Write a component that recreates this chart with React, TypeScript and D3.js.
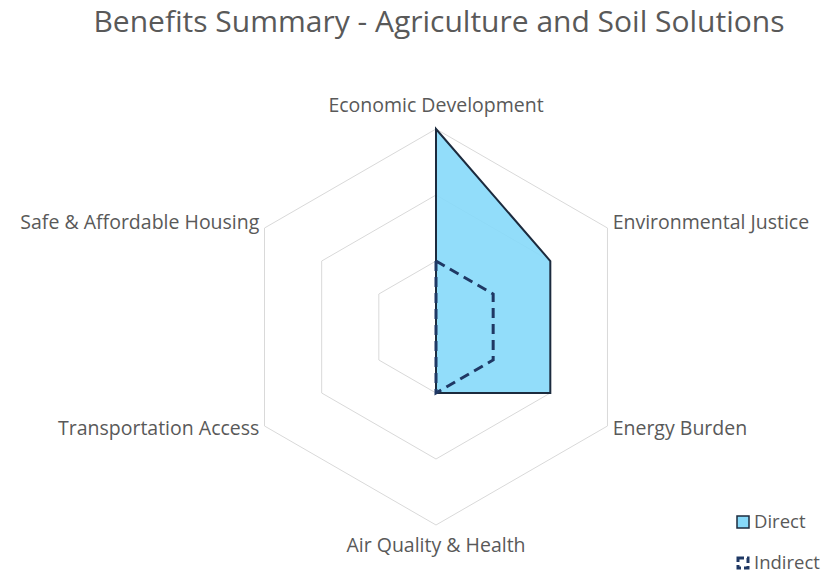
import React, { useEffect, useRef } from "react";
import * as d3 from "d3";

const axes = [
  "Economic Development",
  "Environmental Justice",
  "Energy Burden",
  "Air Quality & Health",
  "Transportation Access",
  "Safe & Affordable Housing",
];
const directValues = [3, 2, 2, 1, 0, 0];
const indirectValues = [1, 1, 1, 1, 0, 0];
const gridLevels = [1, 2, 3];

const FONT = "'Open Sans', 'Liberation Sans', sans-serif";

export default function App() {
  const ref = useRef<SVGSVGElement | null>(null);

  useEffect(() => {
    const width = 831;
    const height = 575;
    const cx = 436;
    const cy = 327;
    const R = 198;

    const svg = d3.select(ref.current).attr("width", width).attr("height", height);
    svg.selectAll("*").remove();

    const r = d3.scaleLinear().domain([0, 3]).range([0, R]);
    const angle = (i: number) => (i * 2 * Math.PI) / axes.length;

    const radar = d3
      .lineRadial<number>()
      .angle((d, i) => angle(i))
      .radius((d) => r(d))
      .curve(d3.curveLinearClosed);

    const g = svg.append("g").attr("transform", `translate(${cx},${cy})`);

    // grid
    g.selectAll("path.grid")
      .data(gridLevels)
      .enter()
      .append("path")
      .attr("class", "grid")
      .attr("d", (lv) => radar(axes.map(() => lv)))
      .attr("fill", "none")
      .attr("stroke", "#d9d9d9")
      .attr("stroke-width", 1);

    // direct series
    g.append("path")
      .attr("d", radar(directValues))
      .attr("fill", "#86d9f9")
      .attr("fill-opacity", 0.9)
      .attr("stroke", "#1c2b3e")
      .attr("stroke-width", 2)
      .attr("stroke-linejoin", "miter");

    // indirect series
    g.append("path")
      .attr("d", radar(indirectValues))
      .attr("fill", "none")
      .attr("stroke", "#1f3864")
      .attr("stroke-width", 3)
      .attr("stroke-dasharray", "10,6");

    // axis labels
    g.selectAll("text.lbl")
      .data(axes)
      .enter()
      .append("text")
      .attr("class", "lbl")
      .attr("x", (d, i) => Math.sin(angle(i)) * (R + 6))
      .attr("y", (d, i) => {
        const y = -Math.cos(angle(i)) * R;
        if (i === 0) return -R - 24;
        if (i === 3) return R + 20;
        return y + (y < 0 ? -6 : 2);
      })
      .attr("dy", "0.35em")
      .attr("text-anchor", (d, i) => {
        const s = Math.sin(angle(i));
        return Math.abs(s) < 0.1 ? "middle" : s > 0 ? "start" : "end";
      })
      .attr("font-family", FONT)
      .attr("font-size", 19.5)
      .attr("fill", "#595959")
      .text((d) => d);

    // title
    svg
      .append("text")
      .attr("x", 439)
      .attr("y", 21)
      .attr("dy", "0.35em")
      .attr("text-anchor", "middle")
      .attr("font-family", FONT)
      .attr("font-size", 30)
      .attr("fill", "#595959")
      .text("Benefits Summary - Agriculture and Soil Solutions");

    // legend
    const legend = svg.append("g").attr("transform", "translate(737,522)");
    legend
      .append("rect")
      .attr("x", 0)
      .attr("y", -6)
      .attr("width", 12)
      .attr("height", 12)
      .attr("fill", "#86d9f9")
      .attr("stroke", "#1c2b3e")
      .attr("stroke-width", 1.5);
    legend
      .append("text")
      .attr("x", 17)
      .attr("y", 0)
      .attr("dy", "0.35em")
      .attr("font-family", FONT)
      .attr("font-size", 18.5)
      .attr("fill", "#595959")
      .text("Direct");
    legend
      .append("rect")
      .attr("x", 1)
      .attr("y", 36)
      .attr("width", 10)
      .attr("height", 10)
      .attr("fill", "none")
      .attr("stroke", "#1f3864")
      .attr("stroke-width", 3)
      .attr("stroke-dasharray", "6,3");
    legend
      .append("text")
      .attr("x", 17)
      .attr("y", 41)
      .attr("dy", "0.35em")
      .attr("font-family", FONT)
      .attr("font-size", 18.5)
      .attr("fill", "#595959")
      .text("Indirect");
  }, []);

  return <svg ref={ref} style={{ position: "absolute", left: 0, top: 0 }}></svg>;
}
